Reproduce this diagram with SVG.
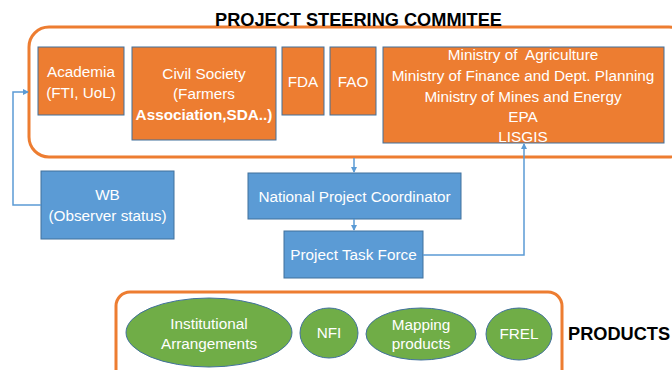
<svg xmlns="http://www.w3.org/2000/svg" width="672" height="370" viewBox="0 0 672 370">
<style>
.t{font-family:"Liberation Sans",Arial,sans-serif;font-size:15.3px;fill:#fff;text-anchor:middle}
.b{font-weight:bold}
.h{font-family:"Liberation Sans",Arial,sans-serif;font-size:18.2px;font-weight:bold;fill:#000}
.o{fill:#ED7D31;stroke:#41719C;stroke-width:1}
.bl{fill:#5B9BD5;stroke:#41719C;stroke-width:1}
.g{fill:#70AD47;stroke:#41719C;stroke-width:1}
.frame{fill:#fff;stroke:#ED7D31;stroke-width:3}
.c{fill:none;stroke:#5B9BD5;stroke-width:1.5}
</style>
<defs>
<marker id="a" markerWidth="6" markerHeight="6" refX="5" refY="3" orient="auto" markerUnits="userSpaceOnUse">
<path d="M0,0 L6,3 L0,6 z" fill="#5B9BD5"/>
</marker>
</defs>
<rect width="672" height="370" fill="#fff"/>
<g id="steering">
<rect class="frame" x="29" y="27" width="660" height="130" rx="20"/>
<text class="h" x="358.5" y="26" text-anchor="middle">PROJECT STEERING COMMITEE</text>
</g>
<g id="products">
<rect class="frame" x="116" y="292" width="446" height="100" rx="14"/>
<text class="h" x="568" y="340">PRODUCTS</text>
</g>
<g id="academia">
<rect class="o" x="38" y="47" width="86" height="68"/>
<text class="t" x="81" y="77">Academia</text>
<text class="t" x="81" y="98">(FTI, UoL)</text>
</g>
<g id="civil">
<rect class="o" x="132" y="47" width="144" height="93"/>
<text class="t" x="204" y="79">Civil Society</text>
<text class="t" x="204" y="99">(Farmers</text>
<text class="t b" x="204" y="120">Association,SDA..)</text>
</g>
<g id="fda">
<rect class="o" x="282" y="47" width="42" height="68"/>
<text class="t" x="303" y="87">FDA</text>
</g>
<g id="fao">
<rect class="o" x="330" y="47" width="46" height="68"/>
<text class="t" x="353" y="87">FAO</text>
</g>
<g id="ministry">
<rect class="o" x="383" y="47" width="281" height="96"/>
<text class="t" x="523" y="60" style="white-space:pre">Ministry of  Agriculture</text>
<text class="t" x="523" y="81">Ministry of Finance and Dept. Planning</text>
<text class="t" x="523" y="102">Ministry of Mines and Energy</text>
<text class="t" x="523" y="122">EPA</text>
<text class="t" x="523" y="142">LISGIS</text>
</g>
<g id="wb">
<rect class="bl" x="41" y="171" width="133" height="68"/>
<text class="t" x="107.5" y="200">WB</text>
<text class="t" x="107.5" y="221">(Observer status)</text>
</g>
<g id="npc">
<rect class="bl" x="248" y="173" width="213" height="46"/>
<text class="t" x="354.5" y="202">National Project Coordinator</text>
</g>
<g id="ptf">
<rect class="bl" x="284" y="231" width="139" height="47"/>
<text class="t" x="353.5" y="260">Project Task Force</text>
</g>
<g id="inst">
<ellipse class="g" cx="209" cy="332.5" rx="83" ry="34.5"/>
<text class="t" x="209" y="329">Institutional</text>
<text class="t" x="209" y="349">Arrangements</text>
</g>
<g id="nfi">
<ellipse class="g" cx="329" cy="333" rx="29" ry="25"/>
<text class="t" x="329" y="338">NFI</text>
</g>
<g id="mapping">
<ellipse class="g" cx="421" cy="334" rx="55" ry="26"/>
<text class="t" x="421" y="330">Mapping</text>
<text class="t" x="421" y="349">products</text>
</g>
<g id="frel">
<ellipse class="g" cx="519" cy="334" rx="33" ry="26"/>
<text class="t" x="519" y="339">FREL</text>
</g>
<g id="connectors">
<path class="c" d="M41,205 H13 V92 H28" marker-end="url(#a)"/>
<path class="c" d="M354,158 V172" marker-end="url(#a)"/>
<path class="c" d="M354,219 V230" marker-end="url(#a)"/>
<path class="c" d="M423,255 H524 V144" marker-end="url(#a)"/>
</g>
</svg>
